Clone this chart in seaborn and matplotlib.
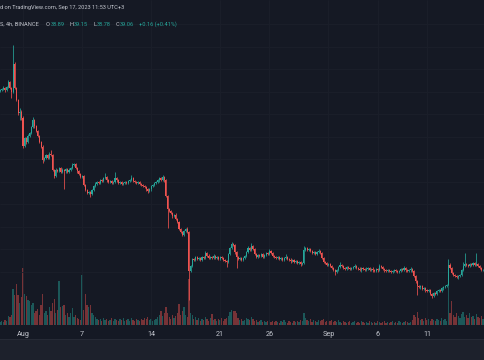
import numpy as np
import pandas as pd
import matplotlib
matplotlib.use("Agg")
import matplotlib.pyplot as plt
from matplotlib.patches import Rectangle
import seaborn as sns

# 4h candles, Jul 29 16:00 -> Sep 17 (price axis is cropped away)
first_open = 78.6
closes = [
    78.8, 79.1, 79.3, 78.8, 79.5, 80.6, 79.3, 78.4, 84.6, 79.3, 76.6, 73.7,
    74.0, 72.6, 66.4, 68.2, 67.3, 68.6, 69.3, 70.6, 72.2, 70.8, 69.7, 68.6,
    67.3, 66.2, 63.3, 63.7, 64.4, 63.7, 64.6, 64.4, 61.1, 59.7, 61.1, 60.8,
    61.5, 60.6, 61.1, 60.8, 61.3, 60.6, 61.1, 61.5, 62.2, 62.4, 61.5, 60.8,
    60.2, 59.5, 59.7, 57.7, 56.6, 56.0, 56.2, 55.7, 56.6, 57.5, 58.0, 58.4,
    58.2, 58.8, 58.6, 59.3, 59.5, 58.8, 58.4, 58.6, 58.2, 58.4, 59.3, 58.8,
    58.2, 58.4, 58.0, 58.2, 58.4, 58.2, 58.6, 58.8, 59.3, 58.6, 58.4, 58.2,
    58.4, 58.0, 57.7, 57.5, 57.3, 56.8, 56.4, 56.8, 57.5, 57.7, 58.2, 58.4,
    58.8, 59.3, 58.8, 59.5, 58.8, 55.3, 52.4, 52.0, 51.5, 50.8, 51.1, 50.2,
    49.5, 48.0, 47.3, 46.6, 47.5, 48.0, 47.3, 38.6, 39.7, 41.3, 41.1, 41.7,
    41.3, 41.5, 41.1, 41.7, 41.5, 42.6, 42.0, 41.5, 41.7, 41.5, 42.0, 41.5,
    41.7, 41.3, 41.7, 41.5, 41.1, 40.8, 40.6, 42.4, 43.7, 44.6, 44.4, 42.8,
    41.7, 41.3, 41.5, 41.1, 41.5, 42.0, 42.8, 43.7, 43.3, 44.2, 43.5, 42.4,
    41.7, 42.2, 42.0, 42.4, 41.7, 42.2, 42.6, 42.4, 43.1, 42.6, 42.0, 41.7,
    41.5, 41.7, 41.3, 41.5, 41.1, 41.5, 41.7, 41.3, 41.1, 40.8, 41.1, 40.6,
    40.8, 40.4, 40.6, 40.2, 40.4, 43.3, 43.7, 43.3, 43.5, 43.1, 42.6, 42.8,
    42.4, 42.8, 43.1, 42.6, 41.5, 40.6, 40.4, 40.0, 40.2, 39.7, 39.3, 38.8,
    38.4, 38.8, 39.5, 40.0, 39.7, 39.3, 39.1, 39.5, 39.3, 39.1, 39.3, 39.5,
    39.7, 39.3, 39.1, 38.8, 39.3, 39.1, 38.8, 39.1, 39.3, 38.8, 39.1, 38.8,
    38.6, 39.1, 38.8, 39.7, 39.5, 39.1, 38.8, 38.6, 38.8, 38.6, 38.4, 38.6,
    38.8, 38.6, 38.4, 38.6, 39.1, 38.8, 39.3, 38.8, 38.6, 38.8, 39.1, 38.6,
    37.5, 36.4, 35.3, 35.1, 35.3, 34.6, 34.8, 34.4, 34.2, 34.4, 33.5, 33.1,
    33.7, 33.5, 34.2, 34.4, 34.2, 34.8, 35.1, 35.3, 35.5, 40.0, 39.3, 38.2,
    37.7, 37.5, 37.3, 37.5, 37.7, 38.8, 39.7, 40.2, 40.0, 39.7, 40.2, 40.0,
    40.4, 40.0, 40.2, 39.7, 39.3, 38.8, 38.89, 39.06,
]
# wick length above / below the body
wick_up = [
    0.3, 0.2, 0.4, 0.2, 0.3, 0.5, 0.2, 0.3, 4.2, 0.5, 0.3, 0.2,
    0.8, 0.3, 0.4, 0.3, 0.2, 0.4, 0.3, 0.2, 0.6, 0.3, 0.2, 0.3,
    0.2, 0.3, 0.4, 0.3, 0.2, 0.3, 0.4, 0.9, 0.3, 0.2, 0.3, 0.2,
    0.3, 0.2, 0.3, 0.2, 0.3, 0.2, 0.3, 0.2, 0.4, 0.3, 0.2, 0.3,
    0.2, 0.3, 0.2, 0.3, 0.2, 0.3, 0.2, 0.2, 0.3, 0.2, 0.3, 0.2,
    0.3, 0.2, 0.3, 0.2, 0.9, 0.2, 0.3, 0.2, 0.3, 0.2, 1.3, 0.2,
    0.3, 0.2, 0.2, 0.3, 0.2, 0.3, 0.2, 0.3, 0.7, 0.2, 0.3, 0.2,
    0.2, 0.3, 0.2, 0.2, 0.3, 0.2, 0.3, 0.2, 0.3, 0.2, 0.3, 0.2,
    0.3, 0.2, 0.3, 0.5, 0.2, 0.3, 0.2, 0.3, 0.2, 0.3, 0.2, 0.3,
    0.2, 0.3, 0.2, 0.3, 0.2, 0.2, 0.3, 0.2, 0.3, 0.2, 0.3, 0.2,
    0.2, 0.3, 0.2, 0.2, 0.3, 0.5, 0.2, 0.3, 0.2, 0.2, 0.3, 0.2,
    0.3, 0.2, 0.2, 0.3, 0.2, 0.2, 0.3, 0.2, 0.3, 0.5, 0.2, 0.3,
    0.2, 0.3, 0.2, 0.2, 0.3, 0.2, 0.3, 0.5, 0.2, 0.6, 0.2, 0.3,
    0.2, 0.2, 0.3, 0.2, 0.2, 0.3, 0.2, 0.2, 0.4, 0.2, 0.3, 0.2,
    0.2, 0.3, 0.2, 0.2, 0.3, 0.2, 0.7, 0.2, 0.2, 0.3, 0.2, 0.2,
    0.3, 0.2, 0.2, 0.2, 0.3, 0.9, 0.3, 0.2, 0.3, 0.2, 0.2, 0.3,
    0.2, 0.2, 0.4, 0.2, 0.3, 0.2, 0.2, 0.3, 0.2, 0.2, 0.3, 0.2,
    0.2, 0.2, 0.3, 0.6, 0.2, 0.2, 0.3, 0.2, 0.2, 0.2, 0.3, 0.2,
    0.5, 0.2, 0.2, 0.3, 0.2, 0.2, 0.2, 0.3, 0.2, 0.2, 0.2, 0.3,
    0.2, 0.2, 0.2, 0.5, 0.2, 0.3, 0.2, 0.2, 0.2, 0.3, 0.2, 0.2,
    0.2, 0.3, 0.2, 0.2, 0.2, 0.2, 0.4, 0.2, 0.2, 0.3, 0.4, 0.2,
    0.3, 0.2, 0.3, 0.2, 0.3, 0.2, 0.2, 0.3, 0.2, 0.3, 0.2, 0.2,
    0.3, 0.2, 0.3, 0.2, 0.2, 0.3, 0.2, 0.3, 0.2, 1.3, 0.3, 0.2,
    0.2, 0.3, 0.2, 0.2, 0.3, 0.3, 0.9, 2.4, 0.3, 0.2, 0.3, 0.2,
    0.3, 0.2, 2.4, 0.3, 0.2, 0.2, 0.2, 0.09,
]
wick_dn = [
    0.3, 0.2, 0.3, 0.4, 0.2, 0.3, 0.3, 1.3, 0.3, 0.2, 0.3, 0.4,
    1.5, 0.5, 0.4, 0.3, 0.4, 0.3, 0.2, 0.3, 0.2, 0.3, 0.2, 0.3,
    0.3, 0.2, 0.6, 0.3, 0.2, 0.3, 0.2, 0.3, 0.2, 0.5, 0.3, 0.2,
    0.2, 0.3, 0.2, 4.0, 0.3, 0.2, 0.3, 0.2, 0.2, 0.3, 0.2, 0.3,
    0.3, 0.2, 0.3, 0.2, 0.3, 0.3, 0.2, 0.6, 0.2, 0.3, 0.2, 0.3,
    0.2, 0.3, 0.2, 0.3, 0.2, 0.3, 0.2, 0.3, 0.2, 0.3, 0.2, 0.3,
    0.2, 0.3, 0.2, 0.2, 0.3, 0.2, 0.3, 0.2, 0.2, 0.3, 0.2, 0.3,
    0.2, 0.3, 0.2, 0.3, 0.2, 0.3, 0.5, 0.2, 0.3, 0.2, 0.3, 0.2,
    0.2, 0.3, 0.2, 0.2, 0.3, 0.3, 4.2, 0.3, 0.2, 0.3, 0.2, 0.3,
    0.3, 0.2, 0.3, 0.3, 0.2, 0.3, 0.2, 6.4, 0.3, 0.2, 0.3, 0.2,
    0.3, 0.2, 0.2, 0.3, 0.2, 0.2, 0.3, 0.2, 0.2, 0.3, 0.2, 0.2,
    0.2, 0.3, 0.2, 0.2, 0.3, 0.2, 1.1, 0.2, 0.3, 0.2, 0.2, 0.3,
    2.4, 0.2, 0.3, 0.2, 0.2, 0.3, 0.2, 0.2, 0.3, 0.2, 0.2, 0.3,
    0.2, 0.3, 0.2, 0.2, 0.3, 0.2, 0.2, 0.3, 0.2, 0.2, 0.3, 0.2,
    0.3, 0.2, 0.2, 0.3, 0.2, 0.2, 0.3, 0.2, 0.2, 0.3, 0.2, 0.2,
    0.2, 0.3, 0.2, 0.5, 0.2, 0.3, 0.2, 0.2, 0.3, 0.2, 0.2, 0.3,
    0.2, 0.3, 0.2, 0.2, 0.3, 0.2, 0.2, 0.3, 0.2, 0.2, 0.3, 0.2,
    0.7, 0.2, 0.2, 0.3, 0.2, 0.2, 0.3, 0.2, 0.2, 0.3, 0.2, 0.2,
    0.2, 0.3, 0.2, 0.2, 0.3, 0.2, 0.2, 0.2, 0.3, 0.2, 0.2, 0.3,
    0.2, 0.2, 0.3, 0.2, 0.2, 0.2, 0.3, 0.2, 0.2, 0.3, 0.2, 0.2,
    0.3, 0.2, 0.2, 0.3, 0.2, 0.2, 0.2, 0.3, 0.2, 0.2, 0.3, 0.2,
    0.3, 0.4, 2.0, 0.3, 0.4, 0.3, 0.2, 0.4, 0.3, 0.2, 0.3, 0.5,
    0.3, 0.2, 0.3, 0.2, 0.3, 0.2, 0.3, 0.2, 0.3, 0.2, 0.3, 0.2,
    0.3, 0.2, 0.3, 0.5, 0.2, 0.3, 0.2, 0.2, 0.3, 0.2, 0.2, 0.3,
    0.2, 0.3, 0.2, 0.2, 0.3, 0.2, 0.2, 0.11,
]
volumes = [
    3, 4, 3, 5, 4, 9, 8, 10, 36, 30, 41, 30,
    22, 28, 57, 31, 29, 25, 24, 20, 22, 12, 14, 16,
    10, 20, 31, 12, 14, 10, 18, 14, 22, 26, 12, 15,
    44, 18, 19, 20, 10, 12, 8, 12, 17, 8, 10, 7,
    6, 5, 50, 15, 31, 20, 18, 20, 12, 10, 8, 6,
    5, 6, 4, 7, 5, 6, 4, 5, 7, 4, 6, 5,
    4, 6, 5, 7, 4, 5, 6, 4, 7, 5, 4, 6,
    5, 4, 6, 5, 7, 6, 8, 5, 6, 4, 5, 6,
    8, 10, 14, 9, 12, 18, 12, 8, 6, 10, 7, 9,
    12, 21, 10, 14, 18, 10, 8, 46, 12, 10, 6, 8,
    5, 7, 4, 6, 5, 8, 6, 4, 7, 11, 5, 6,
    4, 6, 5, 7, 4, 6, 7, 9, 13, 15, 14, 14,
    12, 7, 5, 6, 4, 5, 7, 6, 5, 8, 6, 4,
    5, 3, 4, 5, 3, 4, 3, 4, 5, 3, 4, 3,
    4, 3, 2, 4, 3, 5, 3, 2, 4, 3, 2, 4,
    3, 4, 3, 5, 4, 12, 7, 5, 4, 6, 3, 5,
    4, 3, 5, 4, 5, 6, 3, 4, 3, 4, 5, 3,
    4, 3, 5, 3, 2, 4, 3, 2, 3, 4, 2, 3,
    4, 2, 3, 2, 4, 3, 2, 3, 2, 4, 3, 2,
    3, 2, 4, 3, 2, 3, 4, 2, 3, 2, 3, 4,
    2, 3, 2, 4, 3, 2, 3, 4, 3, 2, 3, 5,
    10, 8, 13, 7, 5, 6, 4, 7, 5, 6, 4, 6,
    5, 4, 6, 5, 4, 7, 5, 6, 4, 38, 12, 24,
    10, 8, 12, 9, 7, 11, 13, 8, 10, 7, 12, 8,
    9, 6, 11, 8, 7, 9, 6, 5,
]

tick_days = ["2023-08-01", "2023-08-07", "2023-08-14", "2023-08-21",
             "2023-08-26", "2023-09-01", "2023-09-06", "2023-09-11"]
tick_labels = ["Aug", "7", "14", "21", "26", "Sep", "6", "11"]
grid_prices = [38.5, 43.5, 48.5, 53.5, 58.5, 63.5, 68.5, 73.5, 78.5, 83.5, 88.5, 93.5]

header_top = "d on TradingView.com, Sep 17, 2023 11:53 UTC+3"
header_symbol = "S, 4h, BINANCE"
ohlc_names = ["O", "H", "L", "C"]
ohlc_values = ["38.89", "39.15", "38.78", "39.06"]
header_change = "+0.16 (+0.41%)"

# ---------------- data frame ----------------
n = len(closes)
dates = pd.date_range("2023-07-29 16:00", periods=n, freq="4h")
opens = [first_open] + closes[:-1]
df = pd.DataFrame({"i": np.arange(n), "open": opens, "close": closes, "vol": volumes})
df["high"] = df[["open", "close"]].max(axis=1) + np.array(wick_up)
df["low"] = df[["open", "close"]].min(axis=1) - np.array(wick_dn)
df["dir"] = np.where(df["close"] >= df["open"], "up", "down")
df["body_lo"] = df[["open", "close"]].min(axis=1)
df["body_h"] = (df["close"] - df["open"]).abs().clip(lower=0.12)

tick_pos = dates.get_indexer(pd.to_datetime(tick_days))

# ---------------- style ----------------
BG = "#151924"
UP = "#26a69a"
DOWN = "#ef5350"
GRID = "#1b1f2a"
TXT = "#c3c6ce"

sns.set_theme(style="dark", rc={"axes.facecolor": BG, "figure.facecolor": BG})
plt.rcParams["font.family"] = ["Roboto", "DejaVu Sans"]

W, H = 485, 360
fig = plt.figure(figsize=(W / 100, H / 100), dpi=100)
rect = [0, 35 / H, 1, 325 / H]

# volume pane (drawn underneath)
axv = fig.add_axes(rect)
sns.barplot(data=df, x="i", y="vol", hue="dir", palette={"up": UP, "down": DOWN},
            native_scale=True, dodge=False, legend=False, errorbar=None,
            width=0.8, saturation=1, alpha=0.45, linewidth=0, ax=axv)
axv.set_ylim(0, 325)
axv.set_xlim(0, 295.3)
axv.set_axis_off()

# price pane on top
ax = fig.add_axes(rect)
ax.patch.set_alpha(0)
cols = np.where(df["dir"] == "up", UP, DOWN)
ax.vlines(df["i"], df["low"], df["high"], colors=cols, linewidth=0.55)
ax.bar(df["i"], df["body_h"], bottom=df["body_lo"], width=0.65, color=cols, linewidth=0)

ax.set_xlim(0, 295.3)
ax.set_ylim(26.62, 98.84)
ax.set_yticks(grid_prices)
ax.set_xticks(tick_pos)
ax.set_xticklabels(tick_labels)
ax.grid(True, color=GRID, linewidth=0.6)
ax.set_axisbelow(True)
ax.tick_params(axis="y", left=False, labelleft=False)
ax.tick_params(axis="x", bottom=False, pad=-1.5, labelsize=5.2, labelcolor=TXT)
ax.set_xlabel("")
ax.set_ylabel("")
for s in ax.spines.values():
    s.set_visible(False)

# bottom toolbar strip
fig.patches.append(Rectangle((0, 0), 1, 20 / H, transform=fig.transFigure,
                             facecolor="#1d212c", edgecolor="none", zorder=0))
fig.patches.append(Rectangle((0, 20 / H), 1, 1 / H, transform=fig.transFigure,
                             facecolor="#262a35", edgecolor="none", zorder=0))

# header texts
FS = 4.1
renderer = fig.canvas.get_renderer()


def put_run(pieces, x, y):
    for text, color, gap in pieces:
        t = fig.text(x / W, 1 - y / H, text, color=color, fontsize=FS, va="center", ha="left")
        x += t.get_window_extent(renderer).width + gap


put_run([(header_top, TXT, 0)], 0, 8)
line2 = [(header_symbol, TXT, 7)]
for name, val in zip(ohlc_names, ohlc_values):
    line2.append((name, TXT, 0.6))
    line2.append((val, UP, 5))
line2.append((header_change, UP, 0))
put_run(line2, 0, 24)

fig.savefig("out.png", dpi=100, facecolor=BG)
